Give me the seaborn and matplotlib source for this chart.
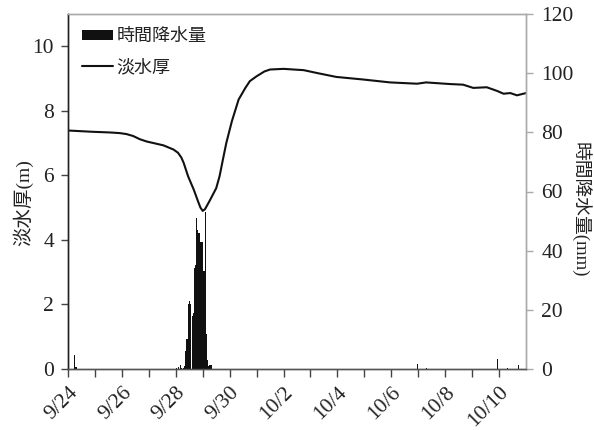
import matplotlib
matplotlib.use("Agg")
import matplotlib.pyplot as plt
from matplotlib.patches import Patch
from matplotlib.lines import Line2D
import seaborn as sns
import pandas as pd

# Freshwater lens thickness (m), hours elapsed since 9/24 00:00
thick_hours = [0, 22, 37, 46, 52, 58, 64, 70, 85, 94, 98, 101, 103, 107, 112,
               116, 118, 120, 122, 126, 132, 135, 138, 141, 146, 152, 158, 162,
               168, 175, 180, 192, 210, 222, 239, 263, 287, 311, 319, 340, 352,
               361, 373, 382, 388, 394, 400, 408]
thick_m = [7.39, 7.35, 7.33, 7.31, 7.28, 7.22, 7.12, 7.05, 6.93, 6.80, 6.70,
           6.55, 6.39, 5.97, 5.56, 5.18, 5.00, 4.90, 4.95, 5.20, 5.60, 5.97,
           6.49, 7.00, 7.68, 8.35, 8.71, 8.92, 9.07, 9.22, 9.28, 9.30, 9.26,
           9.17, 9.05, 8.97, 8.88, 8.84, 8.88, 8.83, 8.81, 8.71, 8.73, 8.62,
           8.53, 8.55, 8.48, 8.55]

# Hourly precipitation (mm), hour index since 9/24 00:00
rain_hours = [5, 6, 7, 96, 98, 100,
              101, 102, 103, 104, 105, 106, 107, 108, 109, 110, 111, 112, 113,
              114, 115, 116, 117, 118, 119, 120, 121, 122, 123, 124, 125, 126,
              127, 311, 319, 382, 391, 401]
rain_mm = [4.8, 0.7, 0.7, 0.5, 0.8, 1.5,
           0.5, 0.5, 1.0, 6.0, 10.0, 10.0, 22.0, 23.0, 22.0, 18.0, 19.0, 34.0,
           35.0, 51.0, 47.0, 46.0, 46.0, 43.0, 43.0, 33.0, 33.0, 53.0, 12.0,
           3.0, 1.0, 1.5, 1.5, 1.8, 0.3, 3.5, 0.5, 1.5]

date_labels = ["9/24", "9/26", "9/28", "9/30", "10/2", "10/4", "10/6", "10/8", "10/10"]

sns.set_theme(style="white")
plt.rcParams["font.family"] = ["Liberation Serif", "Noto Sans CJK JP"]
plt.rcParams["axes.unicode_minus"] = False

ink = "#222222"
fig = plt.figure(figsize=(5.94, 4.30), dpi=100)
ax = fig.add_axes([68 / 594, 1 - 369 / 430, 458 / 594, 355 / 430])
ax2 = ax.twinx()

thick_df = pd.DataFrame({"hour": thick_hours, "thickness": thick_m})
sns.lineplot(data=thick_df, x="hour", y="thickness", ax=ax,
             color="#111111", linewidth=1.5)

rain_df = pd.DataFrame({"hour": rain_hours, "rain": rain_mm})
sns.histplot(data=rain_df, x="hour", weights="rain", binwidth=1,
             binrange=(0, 408), ax=ax2, color="#111111", alpha=1.0,
             linewidth=0, shrink=0.95, element="bars")

ax.set_xlim(0, 408)
ax.set_ylim(0, 11)
ax2.set_ylim(0, 120)
ax.set_yticks(range(0, 11, 2))
ax2.set_yticks(range(0, 121, 20))

major = [48 * i for i in range(len(date_labels))]
ax.set_xticks(major)
ax.set_xticklabels(date_labels, rotation=45, ha="right", rotation_mode="anchor")
ax.set_xticks([24 + 48 * i for i in range(len(date_labels) - 1)], minor=True)

ax.tick_params(axis="x", which="both", direction="out", length=6, width=1,
               color="#444444", bottom=True, labelsize=15.5, labelcolor=ink, pad=4)
ax.tick_params(axis="y", direction="out", length=5, width=1, color="#444444",
               left=True, labelsize=15.5, labelcolor=ink, pad=5)
ax2.tick_params(axis="y", direction="out", length=5, width=1, color="#aaaaaa",
                right=True, labelsize=15.5, labelcolor=ink, pad=6)

for a in (ax, ax2):
    a.spines["left"].set_color("#222222")
    a.spines["bottom"].set_color("#555555")
    a.spines["top"].set_color("#aaaaaa")
    a.spines["right"].set_color("#aaaaaa")
    for s in a.spines.values():
        s.set_linewidth(1.0)

ax.set_xlabel("")
ax2.set_xlabel("")
ax.set_ylabel("淡水厚(m)", fontsize=14, color=ink)
ax.yaxis.set_label_coords(-0.098, 0.47)
ax.yaxis.label.set_va("center")
ax2.set_ylabel("時間降水量(mm)", fontsize=13.5, color=ink, rotation=270)
ax2.yaxis.set_label_coords(1.12, 0.45)
ax2.yaxis.label.set_va("center")
ax2.yaxis.label.set_ha("center")

handles = [Patch(facecolor="#111111", edgecolor="none", label="時間降水量"),
           Line2D([0], [0], color="#111111", linewidth=1.5, label="淡水厚")]
ax2.legend(handles=handles, loc="upper left", frameon=False, fontsize=13,
           handlelength=1.7, handleheight=0.55, handletextpad=0.2,
           labelspacing=0.75, borderaxespad=0.4, labelcolor=ink)

fig.savefig("out.png", dpi=100)
